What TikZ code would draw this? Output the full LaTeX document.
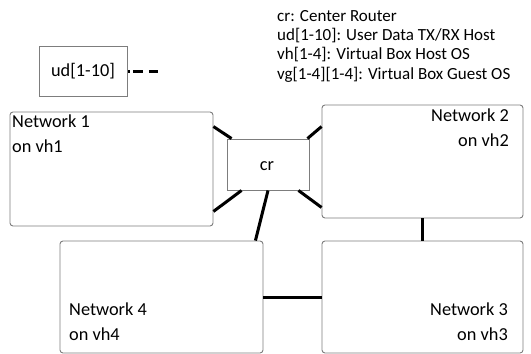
\documentclass[tikz,border=0pt]{standalone}
\usepackage{fontspec}
\setmainfont{Carlito}
\usetikzlibrary{calc}
\definecolor{boxgray}{RGB}{125,125,125}
\tikzset{
  netbox/.style={draw=boxgray, line width=0.9pt, rounded corners=3pt, fill=white, inner sep=0pt},
  plainbox/.style={draw=boxgray, line width=0.9pt, fill=white, inner sep=0pt},
  link/.style={line width=3pt, black},
  txt/.style={font=\fontsize{18.3}{25}\selectfont, inner sep=0pt},
  legend/.style={font=\fontsize{17}{19.3}\selectfont, inner sep=0pt, align=left}
}
\begin{document}
\begin{tikzpicture}[x=1pt,y=-1pt]
\useasboundingbox (0,0) rectangle (531,354);
% boxes
\node[netbox, minimum width=203pt, minimum height=114pt] (n1) at (111.5,169) {};
\node[netbox, minimum width=201pt, minimum height=113pt] (n2) at (422.5,161.5) {};
\node[netbox, minimum width=203pt, minimum height=112pt] (n4) at (161.5,297) {};
\node[netbox, minimum width=201pt, minimum height=112pt] (n3) at (422.5,297) {};
\node[plainbox, minimum width=82pt, minimum height=51pt] (cr) at (268,164.5) {};
\node[txt] (crt) at (267,166) {cr};
\node[plainbox, minimum width=88pt, minimum height=50pt] (ud) at (83,71) {};
\node[txt] (udt) at (83,71) {ud[1-10]};
% texts
\node[txt, align=left, anchor=north west] (n1t) at (12,115) {Network 1\\on vh1};
\node[txt, align=right, anchor=north east] (n2t) at (509,109) {Network 2\\on vh2};
\node[txt, align=left, anchor=north west] (n4t) at (69,303) {Network 4\\on vh4};
\node[txt, align=right, anchor=north east] (n3t) at (508,303) {Network 3\\on vh3};
\node[legend, anchor=north west] (leg) at (277,10) {cr: Center Router\\ud[1-10]: User Data TX/RX Host\\vh[1-4]: Virtual Box Host OS\\vg[1-4][1-4]: Virtual Box Guest OS};
% connectors
\draw[link] ([yshift=-15pt]n1.north east) -- ([xshift=5pt]cr.north west);
\draw[link] ([yshift=15pt]n1.south east) -- ([xshift=15pt]cr.south west);
\draw[link] ([xshift=-2pt]cr.north east) -- ([yshift=-22pt]n2.north west);
\draw[link] ([xshift=-11pt]cr.south east) -- ([yshift=11pt]n2.south west);
\draw[link] (cr.south) -- ([xshift=-8pt]n4.north east);
\draw[link] (n2.south) -- (n3.north);
\draw[link] (n4.east) -- (n3.west);
\coordinate (udend) at (158,71);
\draw[line width=3pt, dash pattern=on 2pt off 2.5pt on 10pt off 6pt on 10pt off 20pt] ([xshift=1pt]ud.east) -- (udend);
\end{tikzpicture}
\end{document}
